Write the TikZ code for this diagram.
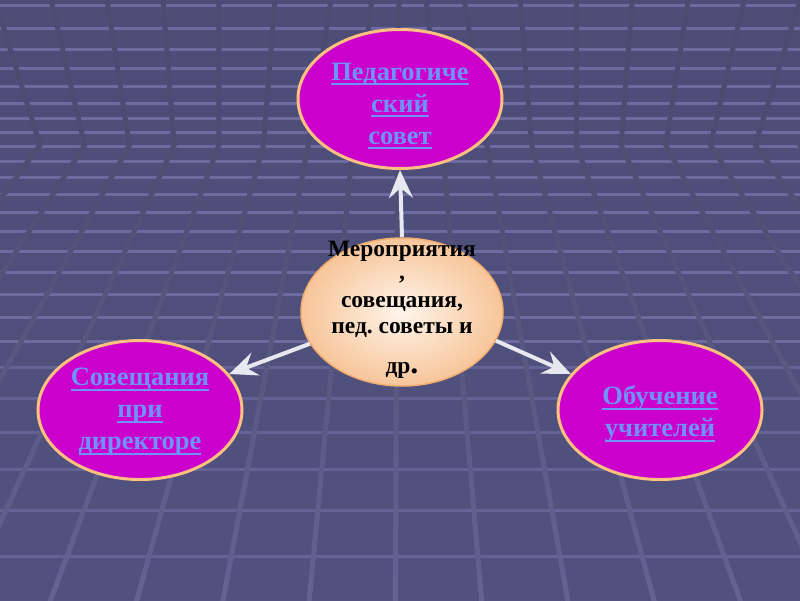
\documentclass[tikz,border=0pt]{standalone}
\usepackage{fontspec}
\setmainfont{Liberation Serif}
\usetikzlibrary{arrows.meta,shapes.geometric}
\frenchspacing
\definecolor{b0}{HTML}{656597}
\definecolor{b1}{HTML}{5C5C8B}
\definecolor{b2}{HTML}{525280}
\definecolor{b3}{HTML}{4A4A74}
\definecolor{b4}{HTML}{4F4F7D}
\definecolor{b5}{HTML}{5F5F92}
\definecolor{hl}{HTML}{9090D0}
\definecolor{slA}{HTML}{4C4C73}
\definecolor{slB}{HTML}{4D4D72}
\definecolor{slE}{HTML}{636393}
\definecolor{magfill}{HTML}{CC00CC}
\definecolor{peach}{HTML}{FFC080}
\definecolor{peachdark}{HTML}{F2AE6E}
\definecolor{cream}{HTML}{FFF4EA}
\definecolor{peachfill}{HTML}{F7C59A}
\definecolor{linkblue}{HTML}{7092F8}
\definecolor{arrowcol}{HTML}{E8E8F0}
\pgfdeclareverticalshading{bgshade}{800bp}{color(0bp)=(b0); color(150bp)=(b1); color(270bp)=(b2); color(350bp)=(b3); color(450bp)=(b4); color(600bp)=(b5)}
\newcommand{\myul}[1]{{\setbox0\hbox{#1}\rlap{\rule[-5pt]{\wd0}{2pt}}\box0}}
\newcommand{\slantlines}[1]{%
  \foreach \i in {-1,...,17}{%
    \pgfmathsetmacro\xv{40+44.7*\i}%
    \pgfmathsetmacro\dx{\xv<330 ? (\xv-218)*0.261 : (\xv>470 ? (\xv-577)*0.261 : 29-(\xv-330)*0.4071)}%
    \pgfmathsetmacro\xt{\xv+\dx}%
    \pgfmathsetmacro\xb{400+1.948*(\xv-400)}%
    \draw[line width=5, color=#1, line join=round] (\xt,-5) -- (\xv,145) -- (\xb,610);
  }}
\tikzset{
  hline/.style={line width=3, color=hl, opacity=0.45},
  hlinelow/.style={line width=3, color=hl, opacity=0.3},
  outer/.style={ellipse, draw=peach, line width=3, fill=magfill, minimum width=204, minimum height=139, inner sep=0},
  center/.style={ellipse, draw=peachdark, line width=1.5, inner color=cream, outer color=peachfill, minimum width=202, minimum height=148, inner sep=0},
  linktext/.style={text=linkblue, align=center, font=\bfseries\fontsize{26.5}{32}\selectfont},
  ctextstyle/.style={text=black, align=center, font=\bfseries\fontsize{23.5}{26}\selectfont},
  arr/.style={draw=arrowcol, line width=4, -{Stealth[length=28pt,width=24pt,inset=10pt]}, color=arrowcol}
}
\begin{document}
\begin{tikzpicture}[x=1pt,y=-1pt]
\useasboundingbox (0,0) rectangle (800,600);
\shade[shading=bgshade] (0,0) rectangle (800,600);
\begin{scope}
\clip (0,0) rectangle (800,600);
\foreach \yy in {5,28,49,68,86,103,118,132,146,161,177,194,212,231,251,272,294,317,341}
  \draw[hline] (0,\yy) -- (800,\yy);
\foreach \yy in {367,398,432,469,510,556}
  \draw[hlinelow] (0,\yy) -- (800,\yy);
\begin{scope}\clip (0,0) rectangle (800,145); \slantlines{slA} \end{scope}
\foreach \k in {0,...,18}{%
  \pgfmathsetmacro\ya{145+\k*24}%
  \pgfmathsetmacro\yb{\ya+24.6}%
  \pgfmathtruncatemacro\p{100-100*(\k+0.5)/19}%
  \colorlet{slcur}{slB!\p!slE}%
  \begin{scope}\clip (0,\ya) rectangle (800,\yb); \slantlines{slcur} \end{scope}
}
\end{scope}

\node[outer] (t) at (400,99) {};
\node[outer] (l) at (140,410) {};
\node[outer] (r) at (660,410) {};
\node[center] (c) at (402,312) {};

\node[linktext] (tt) at (400,106) {\myul{Педагогиче}\\\myul{ский}\\\myul{совет}};
\node[linktext] (lt) at (140,412) {\myul{Совещания}\\\myul{при}\\\myul{директоре}};
\node[linktext] (rt) at (660,414) {\myul{Обучение}\\\myul{учителей}};
\node[ctextstyle] (ct) at (402,310) {Мероприятия\\[-3pt],\\[2pt]совещания,\\пед. советы и\\[14pt]др{\fontsize{32}{32}\selectfont.}};

\draw[arr] (c.90) -- (t.-90);
\draw[arr] (c.199) -- (l.22);
\draw[arr] (c.-17) -- (r.158);
\end{tikzpicture}
\end{document}
